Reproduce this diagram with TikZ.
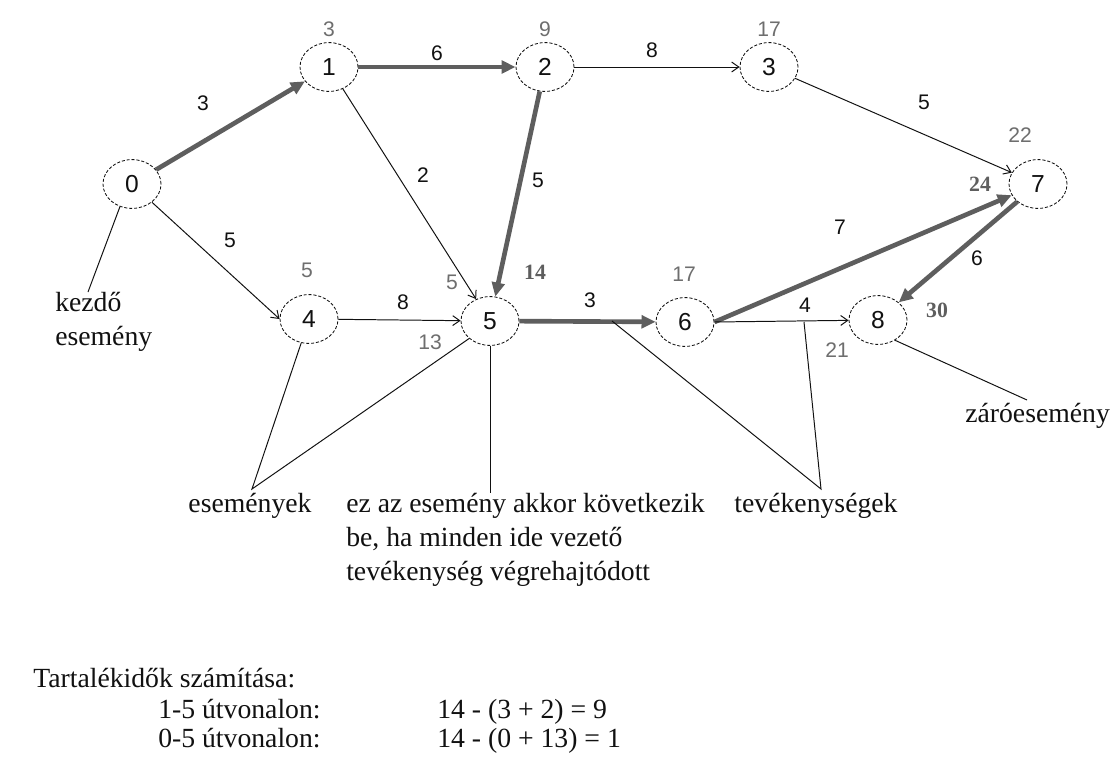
\documentclass[tikz,border=0pt]{standalone}
\usepackage{fontspec}
\setmainfont{Liberation Serif}
\setsansfont{Liberation Sans}
\usetikzlibrary{arrows.meta, positioning, shapes.geometric}
\definecolor{critgray}{HTML}{5E5E5E}
\definecolor{timegray}{HTML}{6E6E6E}
\definecolor{textdark}{HTML}{111111}
\tikzset{
  % Events (dashed ellipses)
  event/.style={
    ellipse, draw=textdark, dash pattern=on 2.2pt off 1.3pt,
    line width=0.6pt, minimum width=1.45cm, minimum height=1.22cm,
    inner sep=0pt, font=\sffamily\fontsize{17.5}{20}\selectfont,
    text=textdark,
  },
  % Numbers
  wt/.style={font=\sffamily\fontsize{15}{18}\selectfont, text=textdark, inner sep=1pt},
  tm/.style={font=\sffamily\fontsize{15}{18}\selectfont, text=timegray, inner sep=1pt},
  late/.style={font=\bfseries\fontsize{15.5}{18}\selectfont, text=critgray, inner sep=1pt},
  % Notes
  note/.style={font=\fontsize{19.7}{24}\selectfont, text=textdark, inner sep=0pt},
  % Arrows
  crit/.style={-{Triangle[length=10pt, width=9pt]}, line width=3.3pt, critgray},
  act/.style={-{Straight Barb[length=5pt, width=7pt]}, line width=0.7pt, textdark},
  lead/.style={line width=0.7pt, textdark},
}
\begin{document}
\begin{tikzpicture}[x=0.025cm, y=-0.025cm]
  \path[use as bounding box, fill=white] (0,0) rectangle (1112,769);

  % events
  \node[event] (n0) at (132,184) {0};
  \node[event] (n1) at (329,67) {1};
  \node[event] (n2) at (545,67) {2};
  \node[event] (n3) at (769,67) {3};
  \node[event] (n4) at (309,319) {4};
  \node[event] (n5) at (490,321) {5};
  \node[event] (n6) at (685,322) {6};
  \node[event] (n7) at (1038,184) {7};
  \node[event] (n8) at (878,320) {8};

  % earliest times
  \node[tm, above=3pt of n1] (t1) {3};
  \node[tm, above=3pt of n2] (t2) {9};
  \node[tm, above=3pt of n3] (t3) {17};
  \node[tm] (t4) at (307,270) {5};
  \node[tm] (t6) at (684,274) {17};
  \node[tm] (t7) at (1020,135) {22};
  \node[tm] (t5a) at (452,282) {5};
  \node[tm] (t5b) at (430,342) {13};
  \node[tm] (t8) at (837,350) {21};

  % latest times
  \node[late] (l5) at (535,272) {14};
  \node[late] (l7) at (980,184) {24};
  \node[late] (l8) at (937,310) {30};

  % activities
  \draw[crit] (n0) -- (n1);
  \draw[crit] (n1) -- (n2);
  \draw[crit] (n2) -- (n5);
  \draw[crit] (n5) -- (n6);
  \draw[crit] (n6.east) -- (n7);
  \draw[crit] (n7) -- (n8);
  \draw[act] (n2) -- (n3);
  \draw[act] (n3) -- (n7);
  \draw[act] (n1) -- (n5);
  \draw[act] (n0) -- (n4.west);
  \draw[act] (n4) -- (n5);
  \draw[act] (n6.east) -- (n8);

  % durations
  \node[wt] (w01) at (203,103) {3};
  \node[wt] (w12) at (437,53) {6};
  \node[wt] (w23) at (652,50) {8};
  \node[wt] (w15) at (423,175) {2};
  \node[wt] (w25) at (538,180) {5};
  \node[wt] (w37) at (924,102) {5};
  \node[wt] (w04) at (230,240) {5};
  \node[wt] (w45) at (403,302) {8};
  \node[wt] (w56) at (590,300) {3};
  \node[wt] (w67) at (840,227) {7};
  \node[wt] (w68) at (805,305) {4};
  \node[wt] (w78) at (977,258) {6};

  % notes
  \node[note, anchor=north west, align=left] (start) at (55,292)
    {kezdő\\esemény};
  \coordinate (starttip) at (88,292);
  \draw[lead] (n0.-118) -- (starttip);

  \node[note, anchor=base] (events) at (250,512) {események};
  \coordinate (evtip) at (252,489);
  \draw[lead] (n4.-108) -- (evtip) -- (n5.-140);

  \node[note, anchor=north west, align=left] (cond) at (346,493)
    {ez az esemény akkor következik\\be, ha minden ide vezető\\tevékenység végrehajtódott};
  \coordinate (condtip) at (490,493);
  \draw[lead] (n5.south) -- (condtip);

  \node[note, anchor=base] (acts) at (816,512) {tevékenységek};
  \coordinate (on56) at (612,321);
  \coordinate (on68) at (804,322);
  \coordinate (acttip) at (821,489);
  \draw[lead] (on56) -- (acttip) -- (on68);

  \node[note, anchor=base west] (endev) at (965,422) {záróesemény};
  \coordinate (endtip) at (1027,400);
  \draw[lead] (n8.-50) -- (endtip);

  % slack calculation
  \node[note, anchor=base west] (calc) at (33,687) {Tartalékidők számítása:};
  \node[note, anchor=base west] (r15) at (158,718) {1-5 útvonalon:};
  \node[note, anchor=base west] (r05) at (158,747) {0-5 útvonalon:};
  \node[note, anchor=base west] (v15) at (437,718) {14 - (3 + 2) = 9};
  \node[note, anchor=base west] (v05) at (437,747) {14 - (0 + 13) = 1};
\end{tikzpicture}
\end{document}
